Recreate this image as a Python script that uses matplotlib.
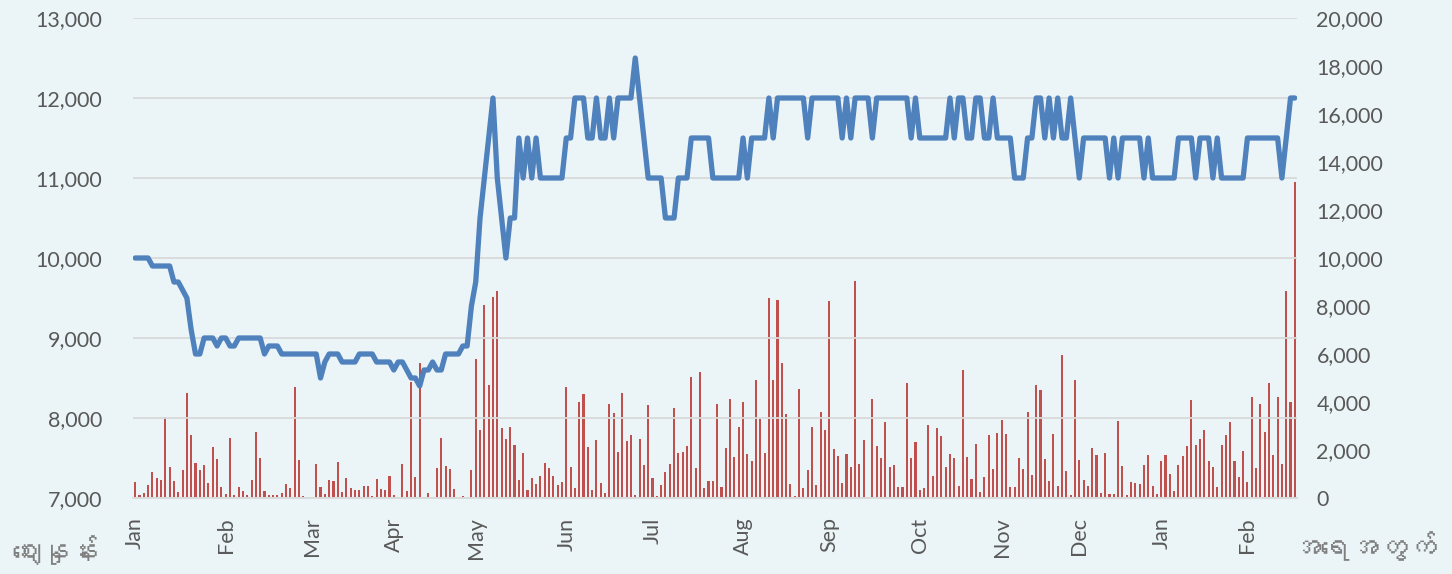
import matplotlib
matplotlib.use("Agg")
import matplotlib.pyplot as plt
from matplotlib import font_manager as fm
from matplotlib.ticker import FuncFormatter, FixedLocator
import numpy as np

# ---------------- data ----------------
price = [
    10000, 10000, 10000, 10000, 9900, 9900, 9900, 9900, 9900, 9700,
    9700, 9600, 9500, 9100, 8800, 8800, 9000, 9000, 9000, 8900,
    9000, 9000, 8900, 8900, 9000, 9000, 9000, 9000, 9000, 9000,
    8800, 8900, 8900, 8900, 8800, 8800, 8800, 8800, 8800, 8800,
    8800, 8800, 8800, 8500, 8700, 8800, 8800, 8800, 8700, 8700,
    8700, 8700, 8800, 8800, 8800, 8800, 8700, 8700, 8700, 8700,
    8600, 8700, 8700, 8600, 8500, 8500, 8400, 8600, 8600, 8700,
    8600, 8600, 8800, 8800, 8800, 8800, 8900, 8900, 9400, 9700,
    10500, 11000, 11500, 12000, 11000, 10500, 10000, 10500, 10500, 11500,
    11000, 11500, 11000, 11500, 11000, 11000, 11000, 11000, 11000, 11000,
    11500, 11500, 12000, 12000, 12000, 11500, 11500, 12000, 11500, 11500,
    12000, 11500, 12000, 12000, 12000, 12000, 12500, 12000, 11500, 11000,
    11000, 11000, 11000, 10500, 10500, 10500, 11000, 11000, 11000, 11500,
    11500, 11500, 11500, 11500, 11000, 11000, 11000, 11000, 11000, 11000,
    11000, 11500, 11000, 11500, 11500, 11500, 11500, 12000, 11500, 12000,
    12000, 12000, 12000, 12000, 12000, 12000, 11500, 12000, 12000, 12000,
    12000, 12000, 12000, 12000, 11500, 12000, 11500, 12000, 12000, 12000,
    12000, 11500, 12000, 12000, 12000, 12000, 12000, 12000, 12000, 12000,
    11500, 12000, 11500, 11500, 11500, 11500, 11500, 11500, 11500, 12000,
    11500, 12000, 12000, 11500, 11500, 12000, 12000, 11500, 11500, 12000,
    11500, 11500, 11500, 11500, 11000, 11000, 11000, 11500, 11500, 12000,
    12000, 11500, 12000, 11500, 12000, 11500, 11500, 12000, 11500, 11000,
    11500, 11500, 11500, 11500, 11500, 11500, 11000, 11500, 11000, 11500,
    11500, 11500, 11500, 11500, 11000, 11500, 11000, 11000, 11000, 11000,
    11000, 11000, 11500, 11500, 11500, 11500, 11000, 11500, 11500, 11500,
    11000, 11500, 11000, 11000, 11000, 11000, 11000, 11000, 11500, 11500,
    11500, 11500, 11500, 11500, 11500, 11500, 11000, 11500, 12000, 12000,
]

volume = [
    680, 125, 195, 540, 1100, 820, 750, 3360, 1300, 710,
    250, 1170, 4360, 2620, 1470, 1170, 1390, 610, 2125, 1610,
    470, 150, 2490, 125, 470, 290, 110, 760, 2750, 1670,
    290, 110, 110, 110, 210, 600, 420, 4630, 1580, 80,
    20, 20, 1400, 440, 180, 750, 710, 1510, 260, 850,
    400, 330, 330, 510, 510, 80, 790, 375, 320, 900,
    125, 50, 1400, 305, 4850, 890, 5610, 50, 220, 20,
    1250, 2500, 1330, 1210, 360, 20, 80, 20, 1180, 5780,
    2820, 8040, 4710, 8360, 8640, 2900, 2460, 2960, 2210, 750,
    1890, 350, 820, 580, 920, 1470, 1240, 920, 530, 650,
    4640, 1290, 430, 4010, 4320, 2110, 350, 2400, 610, 210,
    3930, 3540, 1900, 4360, 2360, 2630, 125, 2440, 1360, 3860,
    850, 80, 530, 1080, 1420, 3740, 1860, 1900, 2180, 5060,
    1240, 5240, 400, 690, 720, 3930, 470, 2070, 4110, 1720,
    2970, 3990, 1830, 1540, 4920, 3310, 1860, 8350, 4930, 8260,
    5610, 3510, 580, 80, 4530, 420, 1170, 2970, 560, 3580,
    2820, 8220, 2030, 1750, 630, 1850, 1290, 9060, 1420, 2420,
    55, 4110, 2150, 1650, 3170, 1290, 1390, 470, 470, 4790,
    1670, 2320, 330, 400, 3030, 920, 2930, 2580, 1310, 1820,
    1680, 510, 5320, 1690, 790, 2240, 240, 890, 2610, 1210,
    2690, 3240, 2650, 460, 460, 1650, 1210, 3600, 960, 4720,
    4510, 1640, 720, 2680, 510, 5940, 1130, 140, 4900, 1570,
    750, 500, 2080, 1790, 190, 1860, 150, 150, 3220, 1330,
    110, 680, 640, 580, 1375, 1780, 510, 150, 1540, 1780,
    990, 290, 1375, 1740, 2150, 4080, 2210, 2440, 2830, 1530,
    1290, 460, 2190, 2610, 3150, 1540, 860, 1970, 670, 4210,
    1250, 3920, 2750, 4780, 1780, 4190, 1400, 8640, 3990, 13180,
]

month_labels = ["Jan", "Feb", "Mar", "Apr", "May", "Jun", "Jul",
                "Aug", "Sep", "Oct", "Nov", "Dec", "Jan", "Feb"]
month_start_index = [0, 21, 41, 60, 79, 100, 120, 141, 161, 182, 201, 219, 238, 258]

left_label = "ဈေးနှုန်း"
right_label = "အရေအတွက်"

# ---------------- fonts ----------------
def find_family(ch):
    try:
        from fontTools.ttLib import TTFont
    except Exception:
        return None
    for f in fm.fontManager.ttflist:
        try:
            tt = TTFont(f.fname, fontNumber=0, lazy=True)
            cmap = tt.getBestCmap()
            if cmap and ord(ch) in cmap:
                return f.name
        except Exception:
            continue
    return None

mm_family = find_family("ဈ")
base_family = "Lato"
label_families = ([mm_family] if mm_family else []) + ["DejaVu Sans"]

# ---------------- figure ----------------
BG = "#EBF5F8"
TXT = "#595959"
fig = plt.figure(figsize=(14.52, 5.74), dpi=100, facecolor=BG)
ax = fig.add_axes([133 / 1452, 1 - 498 / 574, (1297 - 133) / 1452, (498 - 18) / 574])
ax2 = ax.twinx()

x = np.arange(len(price))

# bars (right axis)
ax2.bar(x, volume, width=0.48, color="#C0504D", edgecolor="none", zorder=2)
ax2.set_ylim(0, 20000)
ax2.yaxis.set_major_locator(FixedLocator(np.arange(0, 20001, 2000)))

# line (left axis), drawn on top
ax.set_zorder(ax2.get_zorder() + 1)
ax.patch.set_visible(False)
ax2.patch.set_facecolor(BG)
ax.plot(x, price, color="#4F81BD", lw=3.8, solid_joinstyle="round",
        solid_capstyle="round", zorder=3)
ax.set_ylim(7000, 13000)
ax.yaxis.set_major_locator(FixedLocator(np.arange(7000, 13001, 1000)))
ax.set_xlim(-0.5, len(price) - 0.5)
ax.grid(axis="y", color="#D9D9D9", lw=1.3, zorder=0)

fmt = FuncFormatter(lambda v, p: f"{int(v):,}")
ax.yaxis.set_major_formatter(fmt)
ax2.yaxis.set_major_formatter(fmt)

ax.set_xticks(month_start_index)
ax.set_xticklabels(month_labels, rotation=90, va="top", ha="center")

for a in (ax, ax2):
    for s in a.spines.values():
        s.set_visible(False)
    a.tick_params(length=0, colors=TXT, labelsize=15.5)
    for lab in a.get_xticklabels() + a.get_yticklabels():
        lab.set_fontfamily(base_family)
ax.tick_params(axis="y", pad=22)
ax2.tick_params(axis="y", pad=14)
ax.tick_params(axis="x", pad=14)
ax.spines["bottom"].set_visible(True)
ax.spines["bottom"].set_color("#D9D9D9")
ax.spines["bottom"].set_linewidth(1.3)

fig.text(55 / 1452, 1 - 550 / 574, left_label, ha="center", va="center",
         fontsize=21, fontweight="bold", color="#7F7F7F", family=label_families)
fig.text(1364 / 1452, 1 - 546 / 574, right_label, ha="center", va="center",
         fontsize=21, fontweight="bold", color="#7F7F7F", family=label_families)

fig.savefig("out.png", dpi=100, facecolor=BG)
